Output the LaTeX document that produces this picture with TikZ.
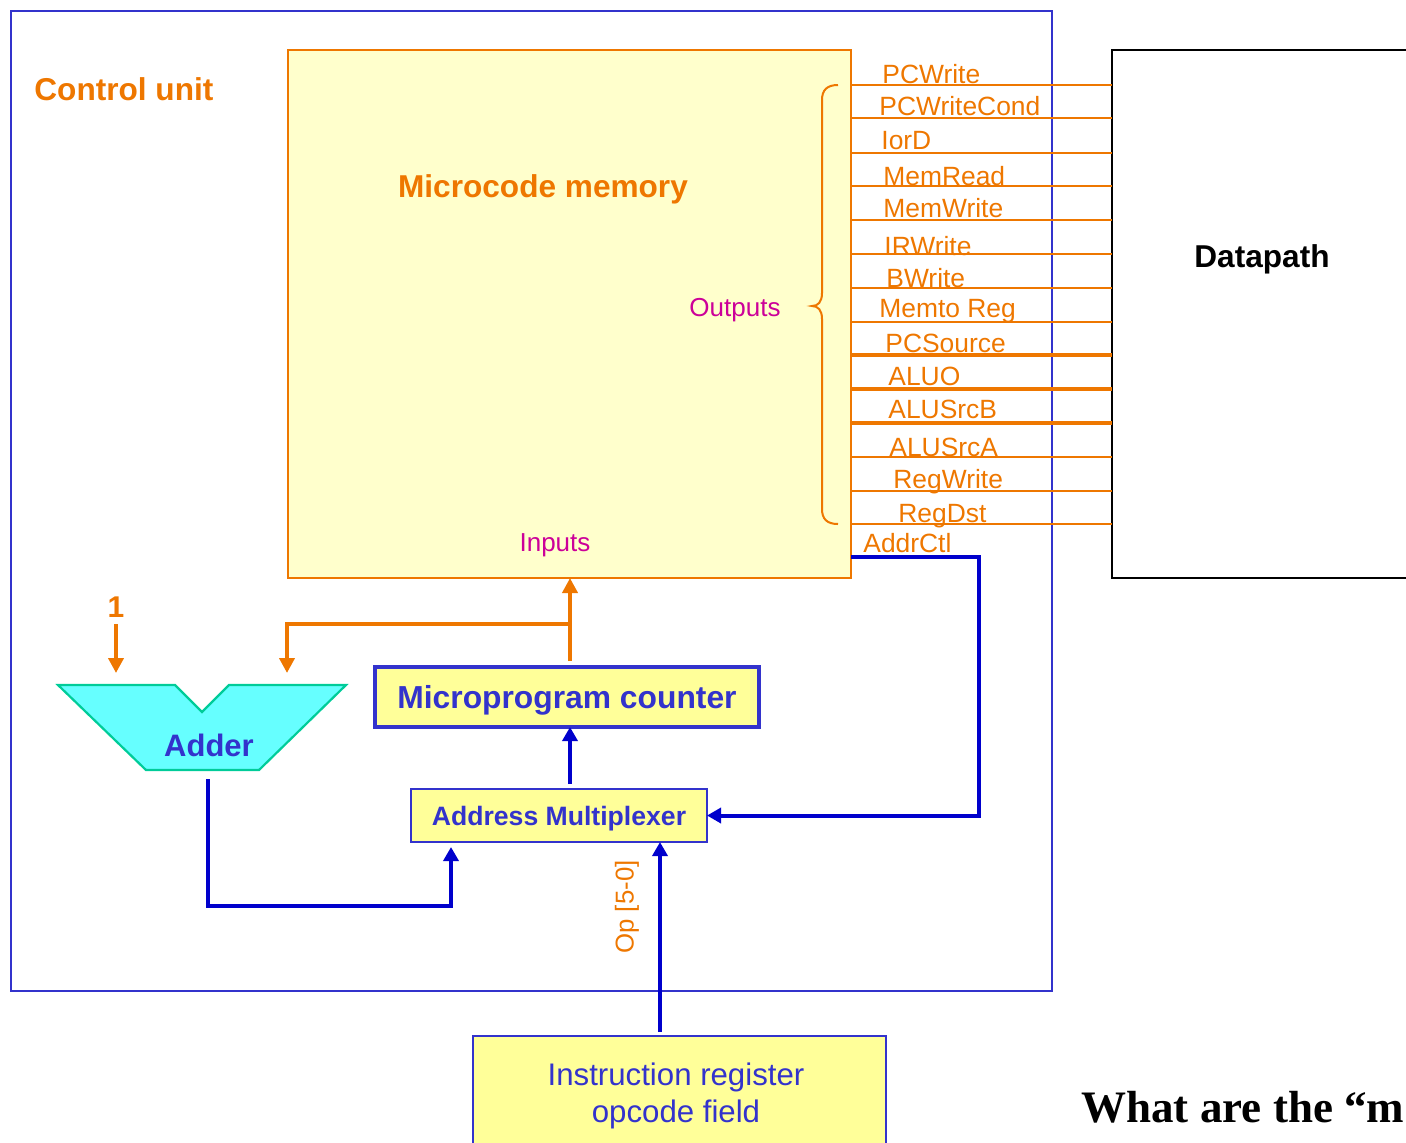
\documentclass[tikz,border=0pt]{standalone}
\usepackage{fontspec}
\setmainfont{Liberation Sans}
\newfontfamily\timesfont{Liberation Serif}
\usetikzlibrary{arrows.meta}
\definecolor{orng}{RGB}{238,119,0}
\definecolor{magt}{RGB}{204,0,153}
\definecolor{tblue}{RGB}{51,51,204}
\definecolor{lblue}{RGB}{0,0,204}
\definecolor{lyel}{RGB}{255,255,204}
\definecolor{yel}{RGB}{255,255,153}
\definecolor{cyanf}{RGB}{102,255,255}
\definecolor{adgreen}{RGB}{0,204,153}
\tikzset{
  boxnode/.style={rectangle, inner sep=0pt, outer sep=0pt},
  siglbl/.style={font=\fontsize{13.2pt}{15pt}\selectfont, text=orng, anchor=base west, inner sep=0pt},
  sigthin/.style={draw=orng, line width=0.9pt},
  sigthick/.style={draw=orng, line width=2.3pt},
  oline/.style={draw=orng, line width=2.4pt},
  oarrow/.style={oline, -{Triangle[length=7.5pt,width=7.5pt]}},
  bline/.style={draw=lblue, line width=2pt},
  barrow/.style={bline, -{Triangle[length=7pt,width=7.5pt]}},
  bigbold/.style={font=\fontsize{15.8pt}{18pt}\selectfont\bfseries, anchor=base, inner sep=0pt},
}
\begin{document}
\begin{tikzpicture}[x=0.5pt,y=-0.5pt]
\useasboundingbox (0,0) rectangle (1406,1142);
\clip (0,0) rectangle (1406,1142);

% Control unit frame
\node[boxnode, draw=tblue, line width=1pt, minimum width=520.5pt, minimum height=490pt] (cu) at (531.5,501) {};
\node[bigbold, text=orng, anchor=base west] (cutitle) at (34,100) {Control unit};

% Microcode memory
\node[boxnode, draw=orng, fill=lyel, line width=1pt, minimum width=281.5pt, minimum height=264pt] (mem) at (569.5,314) {};
\node[bigbold, text=orng] (memtitle) at (543,197) {Microcode memory};
\node[font=\fontsize{13pt}{15pt}\selectfont, text=magt, anchor=base, inner sep=0pt] (outs) at (735,316) {Outputs};
\node[font=\fontsize{13pt}{15pt}\selectfont, text=magt, anchor=base, inner sep=0pt] (ins) at (555,551) {Inputs};

% brace
\draw[orng, line width=1pt] (838,85) .. controls (827,85) and (822,90) .. (822,100) -- (822,293)
  .. controls (822,302) and (818,306) .. (812,306) .. controls (818,306) and (822,310) .. (822,319)
  -- (822,509) .. controls (822,519) and (827,524) .. (838,524);

% Datapath
\node[boxnode, draw=black, line width=1.3pt, minimum width=154pt, minimum height=264pt] (dp) at (1266,314) {};
\node[bigbold, text=black] (dptitle) at (1262,267) {Datapath};

% signal lines
\foreach \ly/\lx/\lb/\txt/\st in {
  85/882/83/PCWrite/sigthin,
  118/879/115/PCWriteCond/sigthin,
  153/881/149/IorD/sigthin,
  186/883/185/MemRead/sigthin,
  220/883/217/MemWrite/sigthin,
  254/884/255/IRWrite/sigthin,
  288/886/287/BWrite/sigthin,
  322/879/317/Memto Reg/sigthin,
  355/885/352/PCSource/sigthick,
  389/888/385/ALUO/sigthick,
  423/888/418/ALUSrcB/sigthick,
  457/889/456/ALUSrcA/sigthin,
  491/893/488/RegWrite/sigthin,
  524/898/522/RegDst/sigthin}{
  \draw[\st] (mem.east |- 0,\ly) -- (dp.west |- 0,\ly);
  \node[siglbl] at (\lx,\lb) {\txt};
}
\node[siglbl] (addrctl) at (863,552) {AddrCtl};

% Microprogram counter
\node[boxnode, draw=tblue, fill=yel, line width=2.3pt, minimum width=192pt, minimum height=30pt] (mpc) at (567,697) {};
\node[bigbold, font=\fontsize{15.9pt}{18pt}\selectfont\bfseries, text=tblue] (mpctext) at (567,708) {Microprogram counter};

% Address multiplexer
\node[boxnode, draw=tblue, fill=yel, line width=1.3pt, minimum width=148pt, minimum height=26.5pt] (mux) at (559,815.5) {};
\node[bigbold, font=\fontsize{13.3pt}{15pt}\selectfont\bfseries, text=tblue] (muxtext) at (559,825) {Address Multiplexer};

% Instruction register
\node[boxnode, draw=tblue, fill=yel, line width=1.3pt, minimum width=206.5pt, minimum height=70pt] (ir) at (679.5,1106) {};
\node[font=\fontsize{15.6pt}{18pt}\selectfont, text=tblue, anchor=base, inner sep=0pt] (irt1) at (676,1085) {Instruction register};
\node[font=\fontsize{15.6pt}{18pt}\selectfont, text=tblue, anchor=base, inner sep=0pt] (irt2) at (676,1122) {opcode field};

% Adder
\draw[draw=adgreen, fill=cyanf, line width=1.1pt] (58,685) -- (175,685) -- (202,712) -- (229,685) -- (346,685) -- (259,770) -- (146,770) -- cycle;
\node[bigbold, font=\fontsize{15.5pt}{18pt}\selectfont\bfseries, text=tblue] (adder) at (209,756) {Adder};
\coordinate (addout) at (208,779);
\coordinate (addin1) at (116,673);
\coordinate (addin2) at (287,673);
\coordinate (onetop) at (116,624);
\node[bigbold, font=\fontsize{15pt}{18pt}\selectfont\bfseries, text=orng] (one) at (116,617) {1};

% orange connectors
\coordinate (jn) at (570,624);
\draw[oarrow, shorten <=3pt] (mpc.north -| jn) -- (mem.south -| jn);
\draw[oarrow] (jn) -- (addin2 |- jn) -- (addin2);
\draw[oarrow] (onetop) -- (addin1);

% blue connectors
\draw[barrow, shorten <=2.5pt] (mux.north -| jn) -- (mpc.south -| jn);
\draw[barrow] (mem.east |- 0,557) -- (979,557) -- (979,815.5) -- (mux.east);
\draw[barrow, shorten >=2.5pt] (addout) -- (208,906) -- (451,906) -- (mux.south -| 451,0);
\draw[barrow, shorten <=2pt] (ir.north -| 660,0) -- (mux.south -| 660,0);
\node[font=\fontsize{12.9pt}{15pt}\selectfont, text=orng, rotate=90, inner sep=0pt] (op) at (627,907) {Op [5-0]};

% question text
\node[font=\fontsize{22.5pt}{26pt}\selectfont\timesfont\bfseries, anchor=base west, inner sep=0pt] (q) at (1081,1122) {What are the “m};
\end{tikzpicture}
\end{document}
